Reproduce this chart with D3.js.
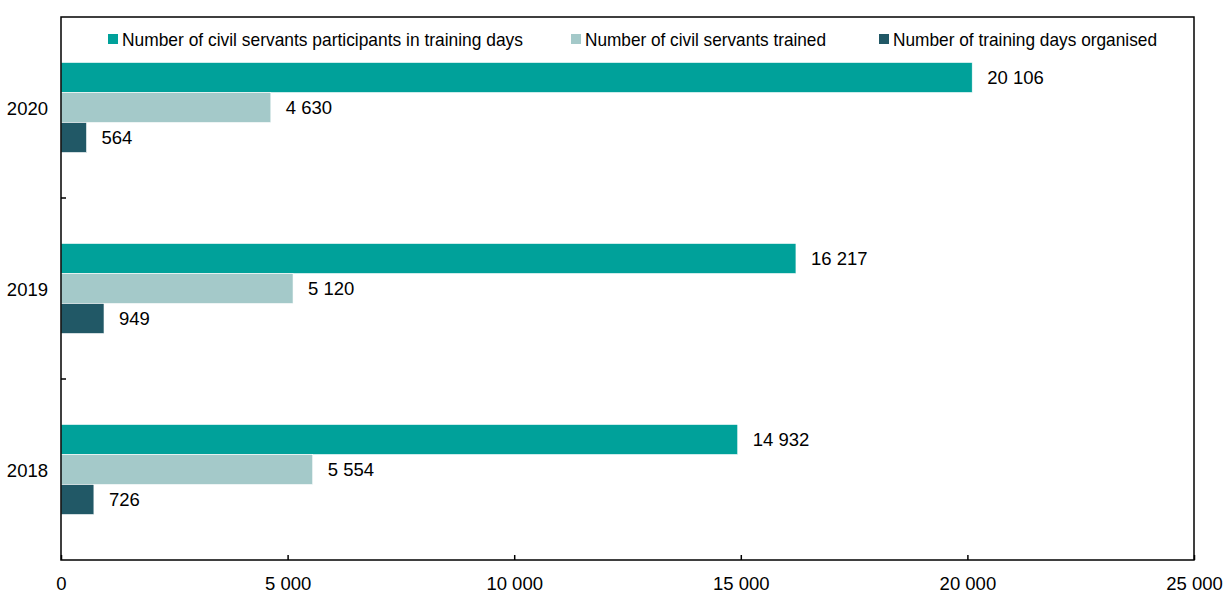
<!DOCTYPE html>
<html><head><meta charset="utf-8">
<script src="https://cdn.jsdelivr.net/npm/d3@7"></script>
<style>body{margin:0;background:#fff}text{font-family:"Liberation Sans",Arial,sans-serif}</style>
</head><body><svg id="c" width="1224" height="594"></svg>
<script>
const years = ["2020","2019","2018"];
const seriesNames = ["Number of civil servants participants in training days","Number of civil servants trained","Number of training days organised"];
const participants = [20106, 16217, 14932];
const trained = [4630, 5120, 5554];
const daysOrganised = [564, 949, 726];
const xTicks = [0, 5000, 10000, 15000, 20000, 25000];
const colors = ["#00A19A", "#A4C9C9", "#215866"];

const series = [participants, trained, daysOrganised];
const svg = d3.select("#c");
const m = {l:61, r:1194, t:17, b:560};
const x = d3.scaleLinear().domain([0,25000]).range([m.l, m.r]);
const y = d3.scaleBand().domain(years).range([m.t, m.b]).paddingInner(0).paddingOuter(0);
const inner = d3.scaleBand().domain(d3.range(3)).range([0, 90]);
const fmt = v => d3.format(",")(v).replace(/,/g, " ");

const g = svg.append("g");
years.forEach((yr, i) => {
  const y0 = y(yr) + y.bandwidth()/2 - 45;
  series.forEach((s, j) => {
    g.append("rect").attr("x", x(0)).attr("y", y0 + inner(j))
      .attr("width", x(s[i]) - x(0)).attr("height", inner.bandwidth())
      .attr("fill", colors[j]).attr("stroke","#fff").attr("stroke-width",0.6);
    g.append("text").attr("x", x(s[i]) + 15).attr("y", y0 + inner(j) + inner.bandwidth()/2)
      .attr("dy","0.36em").attr("font-size",18.5).attr("fill","#000").text(fmt(s[i]));
  });
});

// frame
svg.append("rect").attr("x", m.l).attr("y", m.t).attr("width", m.r-m.l).attr("height", m.b-m.t)
  .attr("fill","none").attr("stroke","#000").attr("stroke-width",1.5);

// x axis
const xa = svg.append("g").attr("transform",`translate(0,${m.b})`)
  .call(d3.axisBottom(x).tickValues(xTicks).tickSizeInner(-5).tickSizeOuter(0).tickPadding(17).tickFormat(fmt));
xa.select(".domain").remove();
xa.selectAll("line").attr("stroke","#000").attr("stroke-width",1.5);
xa.selectAll("text").attr("font-size",18.5).attr("fill","#000").style("font-family",'"Liberation Sans",Arial,sans-serif');

// y axis labels
const ya = svg.append("g").attr("transform",`translate(${m.l},0)`)
  .call(d3.axisLeft(y).tickSize(0).tickPadding(13));
ya.select(".domain").remove();
ya.selectAll("text").attr("font-size",18.5).attr("fill","#000").attr("dy","0.38em").style("font-family",'"Liberation Sans",Arial,sans-serif');
// category boundary ticks
const bounds = years.slice(1).map(yr => y(yr));
svg.append("g").selectAll("line").data(bounds).join("line")
  .attr("x1", m.l).attr("x2", m.l+5).attr("y1", d=>d).attr("y2", d=>d)
  .attr("stroke","#000").attr("stroke-width",1.5);

// legend
const legX = [108, 571, 879];
const legW = [401, 241, 264];
const lg = svg.append("g");
seriesNames.forEach((n, j) => {
  lg.append("rect").attr("x", legX[j]).attr("y", 34).attr("width", 10).attr("height", 10).attr("fill", colors[j]);
  lg.append("text").attr("x", legX[j] + 14).attr("y", 39).attr("dy","0.36em").attr("font-size",18.5)
    .attr("textLength", legW[j]).attr("lengthAdjust","spacingAndGlyphs").attr("fill","#000").text(n);
});
</script></body></html>
